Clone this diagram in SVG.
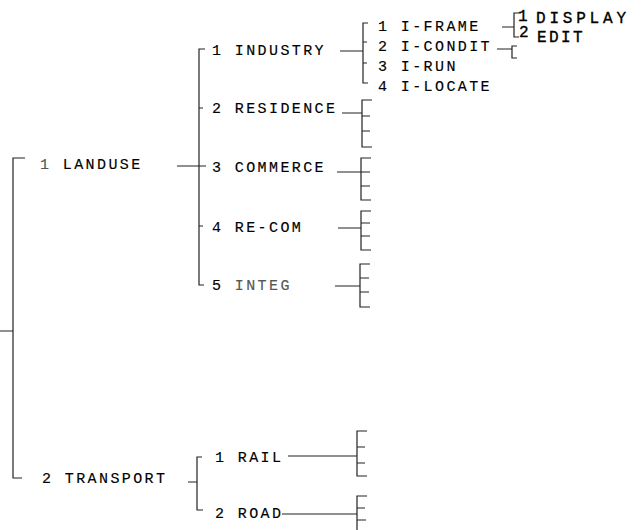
<svg xmlns="http://www.w3.org/2000/svg" width="643" height="530" viewBox="0 0 643 530">
<style>
.c{fill:none;stroke:#222;stroke-width:1.2}
.t{font-family:"Liberation Mono","DejaVu Sans Mono",monospace;font-size:15px;letter-spacing:2.4px;fill:#000;stroke:#000;stroke-width:0.15}
.b{font-family:"Liberation Mono","DejaVu Sans Mono",monospace;font-size:16px;letter-spacing:3.8px;fill:#000;stroke:#000;stroke-width:0.35}
.n{font-family:"Liberation Mono","DejaVu Sans Mono",monospace;font-size:16px;fill:#000;stroke:#000;stroke-width:0.35}
.g{fill:#555;stroke:#555}
</style>
<rect width="643" height="530" fill="#fff"/>
<g id="connectors" class="c">
<path d="M25,158H13V478H22M0,331H13"/>
<path d="M177,166H206M205,49H199V285H204M199,108H203M199,226H203"/>
<path d="M340,51H363M368,23H363V83H368M363,42H367M363,63H367"/>
<path d="M502,27H514M519,13H514V37H519"/>
<path d="M497,49H512M517,46H512V58H517"/>
<path d="M342,113H362M372,100H362V147H372M362,116H370M362,131H370"/>
<path d="M337,172H361M371,158H361V200H371M361,172H370M361,186H370"/>
<path d="M338,228H361M371,211H361V250H371M361,223H370M361,236H370"/>
<path d="M335,286H360M370,264H360V307H370M360,278H369M360,292H369"/>
<path d="M188,482H197M202,457H197V510H203"/>
<path d="M288,456H357M367,431H357V476H367M357,447H365M357,463H365"/>
<path d="M282,514H357M367,496H357V530M357,508H365M357,520H366"/>
</g>
<g id="landuse"><text class="t" x="40" y="169"><tspan class="g">1</tspan> LANDUSE</text></g>
<g id="transport"><text class="t" x="42" y="483">2 TRANSPORT</text></g>
<g id="industry"><text class="t" x="212" y="55">1 INDUSTRY</text></g>
<g id="residence"><text class="t" x="212" y="113">2 RESIDENCE</text></g>
<g id="commerce"><text class="t" x="212" y="172">3 COMMERCE</text></g>
<g id="re-com"><text class="t" x="212" y="232">4 RE-COM</text></g>
<g id="integ"><text class="t" x="212" y="290">5 <tspan class="g">INTEG</tspan></text></g>
<g id="i-frame"><text class="t" x="378" y="30.5">1 I-FRAME</text></g>
<g id="i-condit"><text class="t" x="378" y="51">2 I-CONDIT</text></g>
<g id="i-run"><text class="t" x="378" y="70.5">3 I-RUN</text></g>
<g id="i-locate"><text class="t" x="378" y="90.5">4 I-LOCATE</text></g>
<g id="display"><text class="n" x="518" y="21">1</text><text class="b" x="536" y="23">DISPLAY</text></g>
<g id="edit"><text class="n" x="519" y="37">2</text><text class="b" x="537" y="41.5" style="letter-spacing:2.4px">EDIT</text></g>
<g id="rail"><text class="t" x="215" y="462">1 RAIL</text></g>
<g id="road"><text class="t" x="215" y="518">2 ROAD</text></g>
</svg>
